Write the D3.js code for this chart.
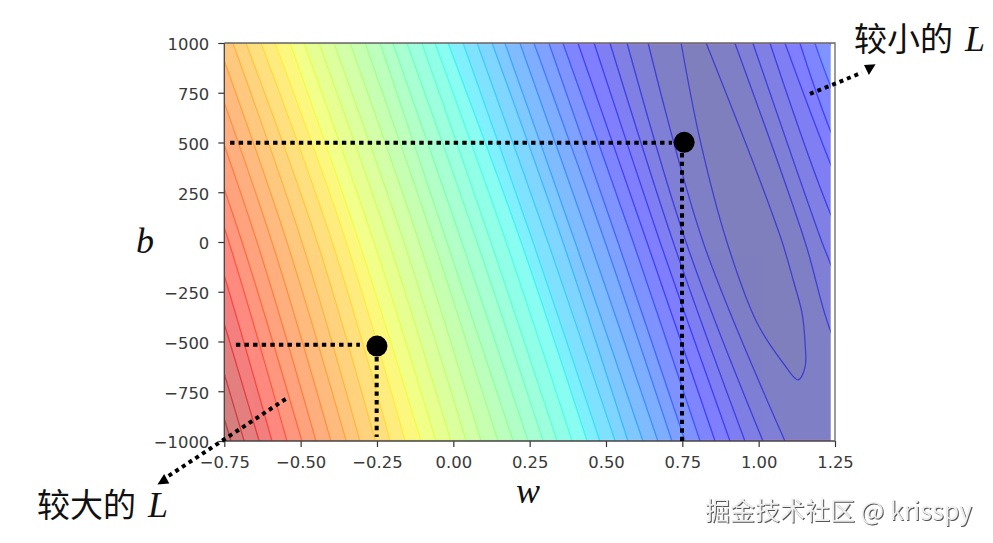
<!DOCTYPE html>
<html>
<head>
<meta charset="utf-8">
<title>L contour</title>
<script src="https://cdn.jsdelivr.net/npm/d3@7"></script>
<style>
  html, body { margin: 0; padding: 0; background: #fff; }
  svg { display: block; }
  .tick text { font-family: "DejaVu Sans", sans-serif; font-size: 16.4px; fill: #3a3a3a; }
  .tick line { stroke: #333; stroke-width: 1.2px; }
  .cjk { font-family: "Noto Sans CJK SC", sans-serif; font-size: 33px; fill: #111; }
  .ital { font-family: "Liberation Serif", serif; font-style: italic; font-size: 36px; fill: #111; }
</style>
</head>
<body>
<div id="chart"></div>
<script>
// w where each contour crosses b = 1000, b = 0, b = -1000
var bLevels = [1000, 0, -1000];
var contourTop = [null, 0.638, 0.569, 0.513, 0.461, 0.408, 0.359, 0.313, 0.264, 0.218, 0.169, 0.127, 0.078, 0.032, -0.017, -0.060, -0.103, -0.152, -0.198, -0.240, -0.289, -0.338, -0.391, -0.440, -0.489, -0.535, -0.584, -0.630, -0.679, -0.722, -0.771, -0.820, -0.869, -0.918, -0.954, -1.003, -1.052, -1.101, -1.151, -1.196, -1.242];
var contourMid = [null, 0.818, 0.762, 0.720, 0.677, 0.634, 0.589, 0.539, 0.497, 0.448, 0.399, 0.359, 0.310, 0.261, 0.222, 0.173, 0.123, 0.078, 0.028, -0.021, -0.063, -0.112, -0.162, -0.211, -0.260, -0.309, -0.351, -0.397, -0.446, -0.496, -0.545, -0.594, -0.643, -0.692, -0.735, -0.784, -0.833, -0.882, -0.931, -0.977, -1.023];
var contourBottom = [null, 1.086, 1.014, 0.955, 0.906, 0.857, 0.808, 0.759, 0.716, 0.670, 0.621, 0.572, 0.530, 0.480, 0.438, 0.389, 0.340, 0.294, 0.245, 0.196, 0.146, 0.091, 0.042, -0.008, -0.057, -0.106, -0.158, -0.207, -0.256, -0.306, -0.351, -0.401, -0.450, -0.496, -0.545, -0.594, -0.636, -0.685, -0.728, -0.767, -0.813];

// right hand side of the contours that come back into the plot, [w, b]
var rightBranches = [
  null,
  [[0.922, 1000], [1.152, 0], [1.234, -442], [1.40, -1000]],
  [[0.981, 1000], [1.207, 0], [1.234, -105], [1.40, -800]],
  [[1.037, 1000], [1.234, 146], [1.40, -400]],
  [[1.086, 1000], [1.234, 397], [1.40, -200]],
  [[1.135, 1000], [1.234, 563], [1.40, 0]],
  [[1.184, 1000], [1.234, 789], [1.40, 200]],
  [[1.234, 1000], [1.40, 400]]
];

// innermost closed contour
var innerContour = [[0.746, 1000], [0.808, 513], [0.896, 0], [0.995, -407], [1.080, -608], [1.129, -693], [1.152, -628], [1.152, -508], [1.142, -357], [1.113, -191], [1.077, 0], [0.995, 347], [0.828, 1000]];

var xTicks = [-0.75, -0.5, -0.25, 0, 0.25, 0.5, 0.75, 1, 1.25];
var yTicks = [-1000, -750, -500, -250, 0, 250, 500, 750, 1000];
var gridEndW = 1.236;
var levelCount = 39;

var points = [[-0.25, -523], [0.756, 501]];
var guides = [
  [[-0.712, -516], [-0.306, -516]],
  [[-0.251, -578], [-0.251, -980]],
  [[-0.731, 499], [0.716, 499]],
  [[0.749, 447], [0.749, -1000]]
];
var arrows = [
  [[1.168, 744], [1.338, 851]],
  [[-0.549, -789], [-0.933, -1176]]
];
var arrowHeads = [
  [[1.345, 889], [1.383, 893], [1.361, 839]],
  [[-0.969, -1218], [-0.947, -1166], [-0.930, -1213]]
];

var width = 993, height = 543;
var x = d3.scaleLinear().domain([-0.75, 1.25]).range([224.3, 835]);
var y = d3.scaleLinear().domain([-1000, 1000]).range([441, 43]);

// matplotlib jet
var jetR = d3.scaleLinear().domain([0, 0.35, 0.66, 0.89, 1]).range([0, 0, 255, 255, 127]).clamp(true);
var jetG = d3.scaleLinear().domain([0, 0.125, 0.375, 0.64, 0.91, 1]).range([0, 0, 255, 255, 0, 0]).clamp(true);
var jetB = d3.scaleLinear().domain([0, 0.11, 0.34, 0.65, 1]).range([127, 255, 255, 0, 0]).clamp(true);
function jet(t) { return d3.rgb(jetR(t), jetG(t), jetB(t)).toString(); }

var svg = d3.select("#chart").append("svg").attr("width", width).attr("height", height);

var defs = svg.append("defs");
defs.append("clipPath").attr("id", "gridClip").append("rect")
  .attr("x", x(-0.75)).attr("y", y(1000))
  .attr("width", x(gridEndW) - x(-0.75)).attr("height", y(-1000) - y(1000));
// the reference is a soft upscaled picture
defs.append("filter").attr("id", "softBands").append("feGaussianBlur").attr("stdDeviation", 0.8);
defs.append("filter").attr("id", "softLines").append("feGaussianBlur").attr("stdDeviation", 0.4);

var curve = d3.line().x(function(d) { return x(d[0]); }).y(function(d) { return y(d[1]); }).curve(d3.curveCatmullRom.alpha(0.5));

function leftBranch(k) {
  return bLevels.map(function(b, i) { return [[contourTop, contourMid, contourBottom][i][k], b]; });
}
function regionPath(k) {
  var d = curve(leftBranch(k));
  d += "L" + x(1.6) + "," + y(-1000);
  if (rightBranches[k]) {
    d += "L" + x(1.6) + "," + y(rightBranches[k][rightBranches[k].length - 1][1]);
    d += "L" + curve(rightBranches[k].slice().reverse()).slice(1);
  } else {
    d += "L" + x(1.6) + "," + y(1000);
  }
  return d + "Z";
}

var plot = svg.append("g").attr("clip-path", "url(#gridClip)");
var bands = plot.append("g").attr("opacity", 0.5).attr("filter", "url(#softBands)");
var levels = d3.range(contourTop.length - 1, 0, -1);

bands.append("rect")
  .attr("x", x(-0.75) - 10).attr("y", y(1000) - 10)
  .attr("width", x(1.25) - x(-0.75) + 20).attr("height", y(-1000) - y(1000) + 20)
  .attr("fill", jet(1));

bands.selectAll("path.band").data(levels).enter().append("path")
  .attr("class", "band")
  .attr("d", regionPath)
  .attr("fill", function(k) { return jet((k - 0.5) / levelCount); });

bands.append("path")
  .attr("d", curve(innerContour) + "Z")
  .attr("fill", jet(0));

var lines = plot.append("g").attr("fill", "none").attr("stroke-width", 1.3).attr("opacity", 0.5).attr("filter", "url(#softLines)");
lines.selectAll("path.left").data(levels).enter().append("path")
  .attr("class", "left")
  .attr("d", function(k) { return curve(leftBranch(k)); })
  .attr("stroke", function(k) { return jet(Math.max(k, 3) / levelCount); });
lines.selectAll("path.right").data(d3.range(1, rightBranches.length)).enter().append("path")
  .attr("class", "right")
  .attr("d", function(k) { return curve(rightBranches[k]); })
  .attr("stroke", function(k) { return jet(Math.max(k, 3) / levelCount); });
lines.append("path")
  .attr("d", curve(innerContour))
  .attr("stroke", jet(3 / levelCount));

// axes
var fmt = function(d) { return String(d).replace("-", "\u2212"); };
var xAxis = d3.axisBottom(x).tickValues(xTicks).tickSize(6).tickPadding(9)
  .tickFormat(function(d) { return fmt(d3.format(".2f")(d)); });
var yAxis = d3.axisLeft(y).tickValues(yTicks).tickSize(6).tickPadding(9).tickFormat(fmt);

svg.append("g").attr("transform", "translate(0," + y(-1000) + ")").call(xAxis).call(function(g) { g.select(".domain").remove(); });
svg.append("g").attr("transform", "translate(" + x(-0.75) + ",0)").call(yAxis).call(function(g) { g.select(".domain").remove(); })
  .selectAll("text").attr("dy", "0.42em");

svg.append("path").attr("d", "M" + x(-0.75) + "," + y(-1000) + "H" + x(1.25)).attr("stroke", "#444").attr("stroke-width", 1.3);
svg.append("path").attr("d", "M" + x(-0.75) + "," + y(-1000) + "V" + y(1000)).attr("stroke", "#444").attr("stroke-width", 1.3);
svg.append("path").attr("d", "M" + x(-0.75) + "," + y(1000) + "H" + x(1.25) + "V" + y(-1000)).attr("fill", "none").attr("stroke", "#666").attr("stroke-width", 1.3);

// annotations on top
var straight = d3.line().x(function(d) { return x(d[0]); }).y(function(d) { return y(d[1]); });
svg.selectAll("path.guide").data(guides).enter().append("path")
  .attr("class", "guide").attr("d", straight).attr("fill", "none")
  .attr("stroke", "#000").attr("stroke-width", 4).attr("stroke-dasharray", "4.4 4.2");
svg.selectAll("path.arrow").data(arrows).enter().append("path")
  .attr("class", "arrow").attr("d", straight).attr("fill", "none")
  .attr("stroke", "#000").attr("stroke-width", 4).attr("stroke-dasharray", "4 4");
svg.selectAll("path.head").data(arrowHeads).enter().append("path")
  .attr("class", "head").attr("d", function(d) { return straight(d) + "Z"; }).attr("fill", "#000");
svg.selectAll("circle").data(points).enter().append("circle")
  .attr("cx", function(d) { return x(d[0]); }).attr("cy", function(d) { return y(d[1]); })
  .attr("r", 10.5).attr("fill", "#000");

// labels
function label(px, py, cjk, ital) {
  var t = svg.append("text").attr("x", px).attr("y", py);
  if (cjk) t.append("tspan").attr("class", "cjk").text(cjk);
  t.append("tspan").attr("class", "ital").attr("dx", cjk ? 12 : 0).text(ital);
}
label(854, 51, "较小的", "L");
label(37, 517, "较大的", "L");
label(136, 253, null, "b");
label(516, 503, null, "w");

svg.append("text").attr("x", 705).attr("y", 520)
  .style("font-family", '"Noto Sans CJK SC", sans-serif').style("font-size", "25px")
  .style("fill", "#efefef").style("filter", "drop-shadow(1px 1px 0.6px #555)")
  .text("掘金技术社区 @ krisspy");
</script>
</body>
</html>
